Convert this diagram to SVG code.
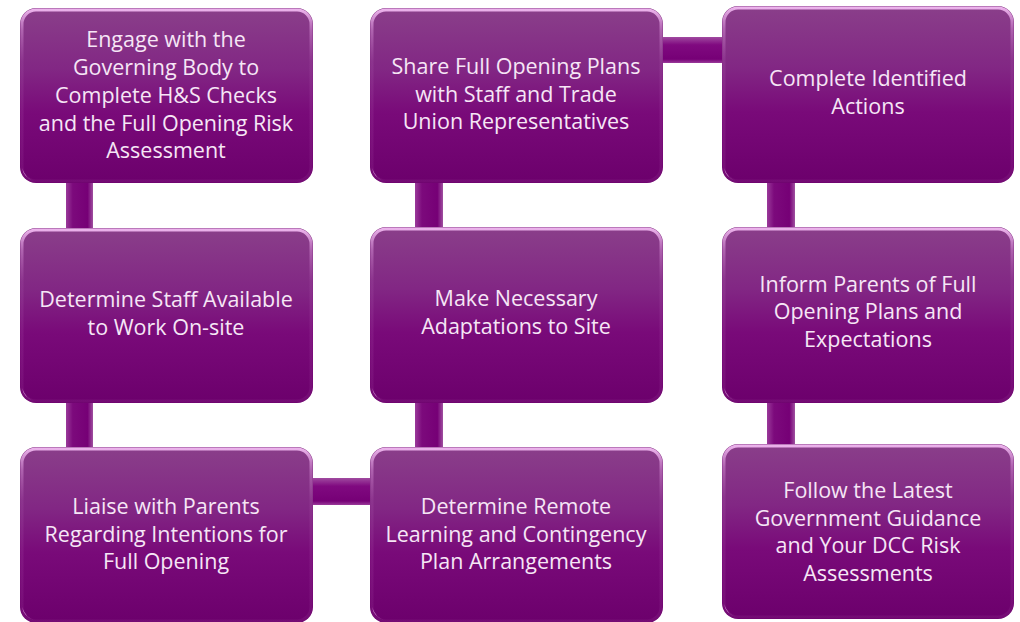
<svg xmlns="http://www.w3.org/2000/svg" width="1020" height="622" viewBox="0 0 1020 622">
<defs>
<linearGradient id="bodyG" x1="0" y1="0" x2="0" y2="1">
<stop offset="0" stop-color="#8a3f8a"/>
<stop offset="0.35" stop-color="#822784"/>
<stop offset="0.6" stop-color="#790a79"/>
<stop offset="1" stop-color="#6c006c"/>
</linearGradient>
<linearGradient id="rimG" x1="0" y1="0" x2="0" y2="1">
<stop offset="0" stop-color="#f0b8f0" stop-opacity="0.95"/>
<stop offset="0.12" stop-color="#d890d8" stop-opacity="0.5"/>
<stop offset="0.3" stop-color="#c070c0" stop-opacity="0.15"/>
<stop offset="1" stop-color="#c070c0" stop-opacity="0.1"/>
</linearGradient>
<linearGradient id="rightG" x1="0" y1="0" x2="0" y2="1">
<stop offset="0" stop-color="#e6a6e6" stop-opacity="0.9"/>
<stop offset="1" stop-color="#c060c0" stop-opacity="0.6"/>
</linearGradient>
<linearGradient id="vBar" x1="0" y1="0" x2="1" y2="0">
<stop offset="0" stop-color="#9a3a9a"/>
<stop offset="0.25" stop-color="#7c0a7c"/>
<stop offset="0.8" stop-color="#760076"/>
<stop offset="1" stop-color="#a050a0"/>
</linearGradient>
<linearGradient id="hBar" x1="0" y1="0" x2="0" y2="1">
<stop offset="0" stop-color="#a04aa0"/>
<stop offset="0.3" stop-color="#800a80"/>
<stop offset="0.85" stop-color="#760076"/>
<stop offset="1" stop-color="#9a3a9a"/>
</linearGradient>
</defs>
<style>
.body{fill:url(#bodyG);}
.rim{fill:none;stroke:url(#rimG);stroke-width:3;}
.edge{fill:none;stroke:url(#rightG);stroke-width:2.5;}
.spot{fill:#e9a6e9;opacity:0.8;}
.t{font-family:"Open Sans","Liberation Sans",sans-serif;font-size:21.5px;fill:#f6e6f6;text-anchor:middle;}
</style>
<g id="connectors">
<rect x="66" y="180" width="27" height="52" fill="url(#vBar)"/>
<rect x="66" y="400" width="27" height="52" fill="url(#vBar)"/>
<rect x="310" y="478" width="64" height="27" fill="url(#hBar)"/>
<rect x="415" y="400" width="28" height="52" fill="url(#vBar)"/>
<rect x="415" y="180" width="28" height="50" fill="url(#vBar)"/>
<rect x="659" y="37" width="66" height="26" fill="url(#hBar)"/>
<rect x="767" y="180" width="28" height="50" fill="url(#vBar)"/>
<rect x="767" y="400" width="28" height="48" fill="url(#vBar)"/>
</g>
<g id="n1">
<rect class="body" x="20" y="8" width="293" height="175" rx="16"/>
<rect class="rim" x="22" y="10" width="289" height="171" rx="14"/>
<path class="edge" d="M309 22 V170"/>
<path class="spot" d="M22 168 q2 10 12 13 q-8 -2 -12 -13z"/>
<text class="t"><tspan x="166" y="47">Engage with the</tspan><tspan x="166" y="75">Governing Body to</tspan><tspan x="166" y="103">Complete H&amp;S Checks</tspan><tspan x="166" y="131">and the Full Opening Risk</tspan><tspan x="166" y="158">Assessment</tspan></text>
</g>
<g id="n2">
<rect class="body" x="20" y="228" width="293" height="175" rx="16"/>
<rect class="rim" x="22" y="230" width="289" height="171" rx="14"/>
<path class="edge" d="M309 242 V390"/>
<path class="spot" d="M22 388 q2 10 12 13 q-8 -2 -12 -13z"/>
<text class="t"><tspan x="166" y="307">Determine Staff Available</tspan><tspan x="166" y="335">to Work On-site</tspan></text>
</g>
<g id="n3">
<rect class="body" x="20" y="447" width="293" height="176" rx="16"/>
<rect class="rim" x="22" y="449" width="289" height="172" rx="14"/>
<path class="edge" d="M309 461 V610"/>
<path class="spot" d="M22 607 q2 10 12 13 q-8 -2 -12 -13z"/>
<text class="t"><tspan x="166" y="514">Liaise with Parents</tspan><tspan x="166" y="542">Regarding Intentions for</tspan><tspan x="166" y="569">Full Opening</tspan></text>
</g>
<g id="n4">
<rect class="body" x="370" y="447" width="293" height="176" rx="16"/>
<rect class="rim" x="372" y="449" width="289" height="172" rx="14"/>
<path class="edge" d="M659 461 V610"/>
<path class="spot" d="M372 607 q2 10 12 13 q-8 -2 -12 -13z"/>
<text class="t"><tspan x="516" y="514">Determine Remote</tspan><tspan x="516" y="542">Learning and Contingency</tspan><tspan x="516" y="569">Plan Arrangements</tspan></text>
</g>
<g id="n5">
<rect class="body" x="370" y="227" width="293" height="176" rx="16"/>
<rect class="rim" x="372" y="229" width="289" height="172" rx="14"/>
<path class="edge" d="M659 241 V390"/>
<path class="spot" d="M372 388 q2 10 12 13 q-8 -2 -12 -13z"/>
<text class="t"><tspan x="516" y="306">Make Necessary</tspan><tspan x="516" y="334">Adaptations to Site</tspan></text>
</g>
<g id="n6">
<rect class="body" x="370" y="8" width="293" height="175" rx="16"/>
<rect class="rim" x="372" y="10" width="289" height="171" rx="14"/>
<path class="edge" d="M659 22 V170"/>
<path class="spot" d="M372 168 q2 10 12 13 q-8 -2 -12 -13z"/>
<text class="t"><tspan x="516" y="74">Share Full Opening Plans</tspan><tspan x="516" y="102">with Staff and Trade</tspan><tspan x="516" y="129">Union Representatives</tspan></text>
</g>
<g id="n7">
<rect class="body" x="722" y="6" width="292" height="177" rx="16"/>
<rect class="rim" x="724" y="8" width="288" height="173" rx="14"/>
<path class="edge" d="M1010 20 V170"/>
<path class="spot" d="M724 168 q2 10 12 13 q-8 -2 -12 -13z"/>
<text class="t"><tspan x="868" y="86">Complete Identified</tspan><tspan x="868" y="114">Actions</tspan></text>
</g>
<g id="n8">
<rect class="body" x="722" y="227" width="292" height="176" rx="16"/>
<rect class="rim" x="724" y="229" width="288" height="172" rx="14"/>
<path class="edge" d="M1010 241 V390"/>
<path class="spot" d="M724 388 q2 10 12 13 q-8 -2 -12 -13z"/>
<text class="t"><tspan x="868" y="292">Inform Parents of Full</tspan><tspan x="868" y="319">Opening Plans and</tspan><tspan x="868" y="347">Expectations</tspan></text>
</g>
<g id="n9">
<rect class="body" x="722" y="444" width="292" height="175" rx="16"/>
<rect class="rim" x="724" y="446" width="288" height="171" rx="14"/>
<path class="edge" d="M1010 458 V606"/>
<path class="spot" d="M724 604 q2 10 12 13 q-8 -2 -12 -13z"/>
<text class="t"><tspan x="868" y="498">Follow the Latest</tspan><tspan x="868" y="526">Government Guidance</tspan><tspan x="868" y="553">and Your DCC Risk</tspan><tspan x="868" y="581">Assessments</tspan></text>
</g>
</svg>
